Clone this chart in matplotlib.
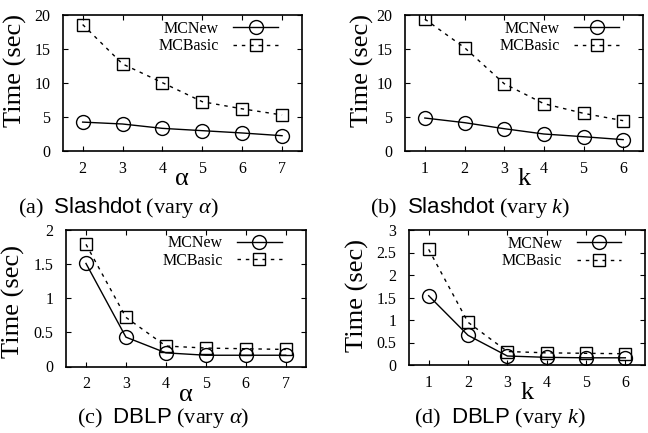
import matplotlib
matplotlib.use("Agg")
import matplotlib.pyplot as plt

plt.rcParams['font.family'] = ['Liberation Serif', 'DejaVu Serif']
plt.rcParams['mathtext.fontset'] = 'custom'
plt.rcParams['mathtext.rm'] = 'Liberation Serif'
plt.rcParams['mathtext.it'] = 'Liberation Serif:italic'
plt.rcParams['mathtext.sf'] = 'Liberation Sans'

# Data
alpha_vals = [2, 3, 4, 5, 6, 7]
k_vals = [1, 2, 3, 4, 5, 6]

slash_alpha_new = [4.25, 3.97, 3.33, 2.99, 2.65, 2.25]
slash_alpha_basic = [18.6, 12.8, 10.05, 7.25, 6.2, 5.3]

slash_k_new = [4.85, 4.17, 3.28, 2.5, 2.1, 1.67]
slash_k_basic = [19.4, 15.2, 9.9, 6.96, 5.54, 4.46]

dblp_alpha_new = [1.51, 0.43, 0.2, 0.165, 0.165, 0.165]
dblp_alpha_basic = [1.79, 0.72, 0.3, 0.27, 0.26, 0.25]

dblp_k_new = [1.54, 0.66, 0.2, 0.17, 0.16, 0.16]
dblp_k_basic = [2.57, 0.95, 0.3, 0.27, 0.26, 0.25]

panels = [
    dict(x=alpha_vals, new=slash_alpha_new, basic=slash_alpha_basic, xlabel='α',
         ylim=(0, 20), yticks=[0, 5, 10, 15, 20], yticklabels=['0', '5', '10', '15', '20'],
         xlim=(1.5, 7.5), rect=[62.7, 15, 302, 151], ylab=(16, 70),
         caption=r'(a)  $\mathsf{Slashdot}$ (vary $\alpha$)', cap=(118, 207)),
    dict(x=k_vals, new=slash_k_new, basic=slash_k_basic, xlabel='k',
         ylim=(0, 20), yticks=[0, 5, 10, 15, 20], yticklabels=['0', '5', '10', '15', '20'],
         xlim=(0.5, 6.5), rect=[405, 15, 643, 151], ylab=(363, 70),
         caption=r'(b)  $\mathsf{Slashdot}$ (vary $k$)', cap=(470, 207)),
    dict(x=alpha_vals, new=dblp_alpha_new, basic=dblp_alpha_basic, xlabel='α',
         ylim=(0, 2), yticks=[0, 0.5, 1, 1.5, 2], yticklabels=['0', '0.5', '1', '1.5', '2'],
         xlim=(1.5, 7.5), rect=[66, 230, 305.7, 366.5], ylab=(14, 302),
         caption=r'(c)  $\mathsf{DBLP}$ (vary $\alpha$)', cap=(163, 418)),
    dict(x=k_vals, new=dblp_k_new, basic=dblp_k_basic, xlabel='k',
         ylim=(0, 3), yticks=[0, 0.5, 1, 1.5, 2, 2.5, 3],
         yticklabels=['0', '0.5', '1', '1.5', '2', '2.5', '3'],
         xlim=(0.5, 6.5), rect=[409, 230, 645, 365], ylab=(358, 296),
         caption=r'(d)  $\mathsf{DBLP}$ (vary $k$)', cap=(500, 418)),
]

W, H = 648, 433
fig = plt.figure(figsize=(W / 100, H / 100), dpi=100)

for p in panels:
    l, t, r, b = p['rect']
    ax = fig.add_axes([l / W, 1 - b / H, (r - l) / W, (b - t) / H])
    ax.plot(p['x'], p['new'], color='black', lw=1.0, marker='o', ms=10,
            mfc='none', mec='black', mew=1.0, label='MCNew')
    ax.plot(p['x'], p['basic'], color='black', lw=1.0, ls=(0, (2.5, 3.5)), marker='s', ms=9,
            mfc='none', mec='black', mew=1.0, label='MCBasic')
    ax.set_xlim(*p['xlim'])
    ax.set_ylim(*p['ylim'])
    ax.set_xticks(p['x'])
    ax.set_yticks(p['yticks'])
    ax.set_yticklabels(p['yticklabels'])
    ax.tick_params(direction='in', top=True, right=True, length=3.5, width=0.8,
                   labelsize=11.5)
    ax.tick_params(axis='y', pad=9)
    ax.tick_params(axis='x', pad=7)
    for s in ax.spines.values():
        s.set_linewidth(1.2)
    ax.set_ylabel('Time (sec)', fontsize=19)
    lx, ly = p['ylab']
    # label anchor is the right side of the rotated text box
    ax.yaxis.set_label_coords((lx + 11 - l) / (r - l), (b - ly) / (b - t))
    ax.set_xlabel(p['xlabel'], fontsize=19, labelpad=-6)
    ax.legend(loc='upper right', frameon=False, markerfirst=False, fontsize=11.5,
              handlelength=2.8, handletextpad=0.9, labelspacing=0.1,
              borderaxespad=0.2, bbox_to_anchor=(0.94, 1.03))
    cx, cy = p['cap']
    fig.text(cx / W, 1 - cy / H, p['caption'], ha='center', va='center', fontsize=16)

fig.savefig('out.png', dpi=100)
